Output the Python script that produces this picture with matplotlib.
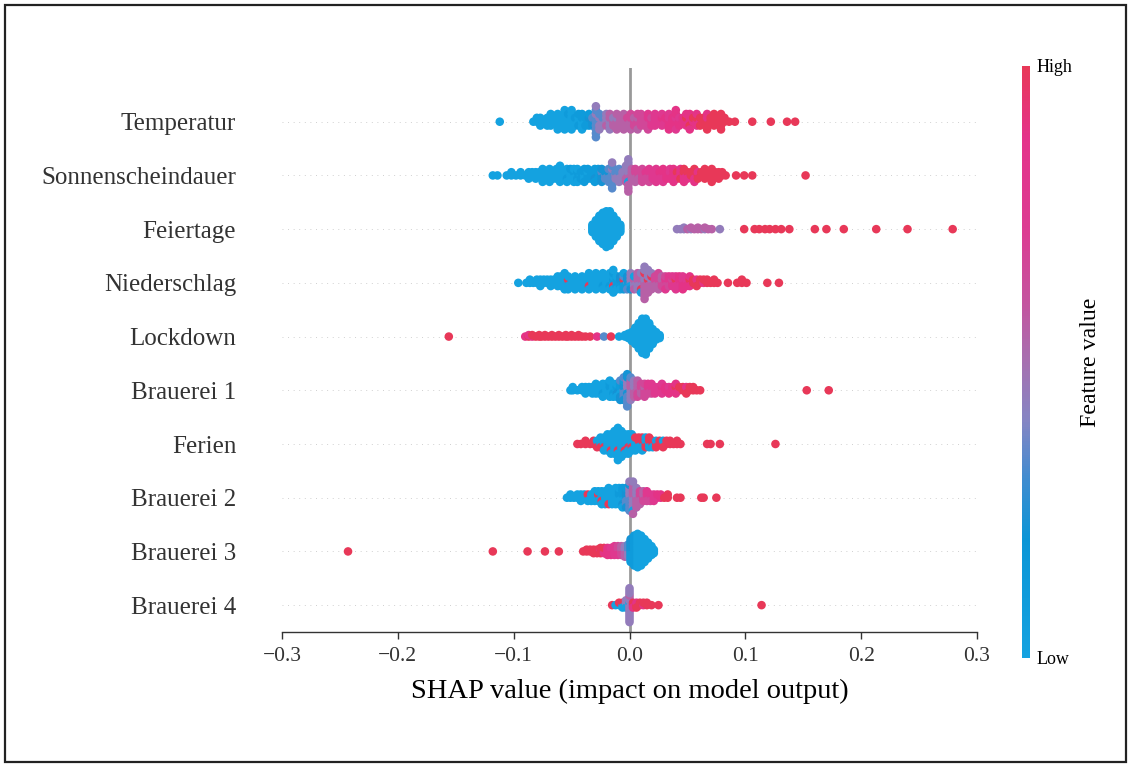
import numpy as np
import matplotlib
matplotlib.use("Agg")
import matplotlib.pyplot as plt
from matplotlib.colors import LinearSegmentedColormap
from matplotlib.cm import ScalarMappable
from matplotlib.patches import Rectangle

plt.rcParams['font.family'] = ['Liberation Serif', 'DejaVu Serif']

# feature names, top to bottom
features = ["Temperatur", "Sonnenscheindauer", "Feiertage", "Niederschlag", "Lockdown",
            "Brauerei 1", "Ferien", "Brauerei 2", "Brauerei 3", "Brauerei 4"]

# (SHAP value in 1/1000, feature value of each point there: 0 = low ... 9 = high)
temperatur = [
    (-112, "0"),
    (-83, "0"), (-80, "00"), (-77, "000"), (-74, "0"), (-71, "000"), (-68, "0000"), (-65, "00"),
    (-62, "00000"), (-59, "000"), (-56, "000000"), (-53, "0001"), (-50, "000000"), (-47, "010"),
    (-44, "0011"), (-41, "01010"), (-38, "011"), (-35, "1211"), (-32, "232"), (-29, "333433343"),
    (-26, "34434"), (-23, "434"), (-20, "4454"), (-17, "45454"), (-14, "545"), (-11, "54555"),
    (-8, "555"), (-5, "55555"), (-2, "565"), (1, "56565"), (4, "656"), (7, "65665"), (10, "6666"),
    (13, "666"), (16, "67676"), (19, "767"), (22, "7777"), (25, "77"), (28, "7877"), (31, "78"),
    (34, "87878"), (37, "88"), (40, "878878"), (43, "878"), (46, "88"), (49, "8988"), (52, "88988"),
    (55, "89"), (58, "8988"), (61, "899"), (64, "99"), (67, "98989"), (70, "99"), (73, "9999"),
    (76, "99"), (79, "99999"), (82, "99"), (86, "9"),
    (91, "9"), (106, "9"), (122, "9"), (136, "9"), (143, "9"),
]
sonnenscheindauer = [
    (-118, "0"), (-114, "0"), (-106, "0"), (-102, "00"), (-98, "0"), (-94, "00"), (-90, "0"),
    (-87, "000"), (-84, "00"), (-81, "000"), (-78, "00"), (-75, "00000"), (-72, "000"),
    (-69, "00000"), (-66, "000"), (-63, "0000"), (-60, "000000"), (-57, "000"), (-54, "00100"),
    (-51, "0001"), (-48, "01000"), (-45, "01100"), (-42, "011"), (-39, "01011"), (-36, "1011"),
    (-33, "111"), (-30, "11211"), (-27, "2111"), (-24, "23222"), (-21, "323"), (-18, "32333"),
    (-15, "333433343"), (-12, "434"), (-9, "43434"), (-6, "444"), (-3, "445454"),
    (-1, "54540454545"), (2, "5555"), (5, "56565"), (8, "665"), (11, "66666"), (14, "676"),
    (17, "67676"), (20, "777"), (23, "77777"), (26, "787"), (29, "78787"), (32, "888"),
    (35, "8787"), (38, "88888"), (41, "898"), (44, "8898"), (47, "89898"), (50, "898"), (53, "99"),
    (56, "99898"), (59, "989"), (62, "99"), (65, "9999"), (68, "99"), (71, "99999"), (74, "99"),
    (77, "999"), (80, "99"), (83, "9"),
    (92, "9"), (99, "9"), (106, "9"), (152, "9"),
]
feiertage = [
    (-32, "000000"), (-29, "000000000000"), (-26, "000000000000000000"),
    (-23, "0000000000000000000000"), (-20, "0000000000000000000000000"),
    (-17, "000000000000000000000000"), (-14, "000000000000000000"), (-11, "000000000000"),
    (-8, "000000"),
    (41, "4"), (44, "4"), (47, "44"), (50, "5"), (53, "45"), (56, "5"), (59, "55"), (62, "5"),
    (65, "45"), (68, "5"), (71, "5"), (78, "4"),
    (99, "9"), (108, "9"), (112, "9"), (117, "9"), (121, "9"), (126, "9"), (131, "9"), (138, "9"),
    (160, "9"), (170, "9"), (185, "9"), (213, "9"), (240, "9"), (279, "9"),
]
niederschlag = [
    (-96, "0"), (-89, "0"), (-86, "00"), (-83, "0"), (-80, "00"), (-77, "000"), (-74, "00"),
    (-71, "00"), (-68, "000"), (-65, "00"), (-62, "0000"), (-59, "0000"), (-56, "000000"),
    (-53, "09000"), (-50, "000"), (-47, "00000"), (-44, "000"), (-41, "00000"), (-38, "000"),
    (-35, "009000"), (-32, "0000"), (-29, "000000"), (-26, "0000"), (-23, "001000"), (-20, "0000"),
    (-17, "001000"), (-14, "01900100"), (-11, "01100"), (-8, "12120"), (-5, "291310"),
    (-2, "32123"), (1, "340424"), (4, "45405"), (7, "454545"), (10, "4545940"),
    (13, "54545954545"), (16, "59545454"), (19, "545954"), (22, "5656"), (25, "565656"),
    (28, "6565"), (31, "67667"), (34, "6767"), (37, "7677"), (40, "79777"), (43, "7878"),
    (46, "87878"), (49, "878"), (52, "8988"), (55, "99"), (58, "989"), (61, "99"), (64, "89"),
    (67, "99"), (70, "9"), (73, "99"), (76, "9"),
    (85, "9"), (93, "9"), (97, "99"), (101, "9"), (119, "9"), (129, "9"),
]
lockdown = [
    (-156, "9"),
    (-90, "8"), (-87, "98"), (-84, "89"), (-81, "9"), (-78, "99"), (-76, "9"), (-73, "99"),
    (-70, "9"), (-67, "99"), (-64, "9"), (-61, "99"), (-58, "9"), (-55, "99"), (-53, "9"),
    (-50, "99"), (-47, "9"), (-44, "99"), (-41, "9"), (-38, "9"), (-34, "9"), (-28, "8"),
    (-22, "3"), (-16, "9"), (-9, "0"),
    (-4, "00"), (-1, "0000"), (2, "0000000"), (5, "000000000000"), (8, "000000000000000000"),
    (11, "000000000000000000000000"), (14, "0000000000000000000000000"),
    (17, "000000000000000000"), (20, "00000000000"), (23, "000000"), (26, "000"),
]
brauerei_1 = [
    (-51, "0"), (-49, "00"), (-45, "0"), (-41, "00"), (-38, "000"), (-35, "00"), (-32, "000"),
    (-29, "0000"), (-26, "000"), (-23, "00100"), (-20, "0000"), (-17, "010100"), (-14, "00100"),
    (-11, "01200"), (-8, "2101232"), (-5, "32323123"), (-2, "34243432323"), (1, "45454543"),
    (4, "545454"), (7, "556565"), (10, "5656"), (13, "65666"), (16, "6767"), (19, "6767"),
    (22, "777"), (25, "77"), (28, "7877"), (31, "88"), (34, "878"), (37, "88"), (40, "8988"),
    (43, "89"), (46, "99"), (49, "989"), (52, "99"), (55, "99"), (58, "9"), (61, "9"),
    (153, "9"), (172, "9"),
]
ferien = [
    (-45, "9"), (-42, "9"), (-38, "99"), (-34, "9"), (-31, "99"), (-28, "909"), (-25, "0090"),
    (-22, "00900"), (-19, "000000"), (-16, "0000900"), (-13, "00000000"), (-10, "00009000000"),
    (-7, "000000000"), (-4, "0000900"), (-1, "0090000"), (2, "009000"), (5, "00090"),
    (8, "0909"), (11, "09090"), (14, "9090"), (17, "0909"), (20, "990"), (23, "909"), (26, "99"),
    (29, "909"), (32, "99"), (35, "99"), (38, "9"), (41, "99"), (44, "9"),
    (67, "9"), (70, "9"), (78, "9"), (126, "9"),
]
brauerei_2 = [
    (-54, "0"), (-51, "00"), (-48, "0"), (-45, "00"), (-42, "000"), (-39, "00"), (-36, "090"),
    (-33, "000"), (-30, "0000"), (-27, "0900"), (-24, "00900"), (-21, "00000"), (-18, "000090"),
    (-15, "00000"), (-12, "000000"), (-9, "010100"), (-6, "0101210"), (-3, "1232312"),
    (0, "3434343234"), (3, "45454545045"), (6, "5454545"), (9, "56565"), (12, "6565"),
    (15, "6767"), (18, "676"), (21, "777"), (24, "78"), (27, "88"), (30, "9"), (33, "99"),
    (41, "9"), (44, "9"), (62, "9"), (64, "9"), (75, "9"),
]
brauerei_3 = [
    (-243, "9"), (-118, "9"), (-88, "9"), (-73, "9"), (-61, "9"),
    (-40, "9"), (-37, "99"), (-34, "99"), (-31, "999"), (-28, "999"), (-25, "9899"),
    (-22, "8989"), (-19, "88888"), (-16, "87878"), (-13, "777777"), (-10, "767676"),
    (-7, "656565"), (-4, "5454545"), (-1, "43434343"),
    (1, "22121212121212"), (4, "111111111111111111"), (7, "00000000000000000000"),
    (10, "000000000000000000"), (13, "00000000000000"), (16, "0000000000"), (19, "000000"),
    (21, "000"),
]
brauerei_4 = [
    (-15, "9"), (-12, "0"), (-9, "09"), (-6, "090"), (-3, "0404"),
    (0, "404444454444444"), (3, "898"), (6, "989"), (9, "99"), (12, "89"), (15, "99"),
    (19, "9"), (25, "9"), (114, "9"),
]

all_bins = [temperatur, sonnenscheindauer, feiertage, niederschlag, lockdown,
            brauerei_1, ferien, brauerei_2, brauerei_3, brauerei_4]

x_ticks = [-0.3, -0.2, -0.1, 0.0, 0.1, 0.2, 0.3]

# colours
cmap = LinearSegmentedColormap.from_list("shap_like", [
    (0.00, "#14a2e0"), (0.20, "#0b95d6"), (0.30, "#3f8cd0"), (0.40, "#8585c4"),
    (0.50, "#a670b0"), (0.60, "#c4549f"), (0.72, "#dc3c92"), (0.88, "#e4328a"),
    (1.00, "#e83858"),
])


def expand(bins):
    xs, fv = [], []
    for v, codes in bins:
        for ch in codes:
            xs.append(v / 1000)
            fv.append(int(ch) / 9)
    return np.array(xs), np.array(fv)


def swarm(xs, row_height=0.4):
    # same stacking rule as shap's beeswarm
    ys = np.zeros(len(xs))
    layer, last = 0, None
    for i, x in enumerate(xs):
        if x != last:
            layer = 0
        ys[i] = np.ceil(layer / 2) * ((layer % 2) * 2 - 1)
        layer += 1
        last = x
    ys *= 0.9 * (row_height / np.max(ys + 1))
    return ys


W, H = 1131, 767
fig = plt.figure(figsize=(W / 100, H / 100), dpi=100)
ax = fig.add_axes([282 / W, 1 - 632 / H, 695 / W, 564 / H])

n = len(features)
ax.axvline(0, color="#999999", lw=2.0, zorder=-1)
for i, bins in enumerate(all_bins):
    pos = n - 1 - i
    ax.axhline(pos, color="#cccccc", lw=0.67, dashes=(1, 5), zorder=-1)
    xs, fv = expand(bins)
    ys = swarm(xs)
    ax.scatter(xs, pos + ys, c=fv, cmap=cmap, vmin=0, vmax=1, s=38,
               linewidth=0, alpha=1, zorder=3)

ax.set_xlim(-0.3, 0.3)
ax.set_ylim(-0.5, n)
ax.set_xticks(x_ticks)
ax.set_yticks(range(n))
ax.set_yticklabels(features[::-1], fontsize=18)
ax.tick_params('x', labelsize=15.5, length=4.7, width=1.0, color="#333333",
               labelcolor="#333333", pad=6)
ax.tick_params('y', length=0, left=False, labelcolor="#333333", pad=33)
for side in ["right", "top", "left"]:
    ax.spines[side].set_visible(False)
ax.spines["bottom"].set_linewidth(1.0)
ax.spines["bottom"].set_color("#333333")
ax.set_xlabel("SHAP value (impact on model output)", fontsize=20.5, labelpad=9)

cax = fig.add_axes([1022 / W, 1 - 658 / H, 7.5 / W, 592 / H])
cb = fig.colorbar(ScalarMappable(cmap=cmap, norm=plt.Normalize(0, 1)), cax=cax, ticks=[0, 1])
cb.set_ticklabels(["Low", "High"])
cb.ax.tick_params(labelsize=13, length=0, pad=5)
cb.outline.set_visible(False)
fig.text(1090 / W, 1 - 362 / H, "Feature value", rotation=90, ha="center", va="center",
         fontsize=17.2)

fig.patches.append(Rectangle((5 / W, 5 / H), 1 - 10 / W, 1 - 10 / H,
                             transform=fig.transFigure, fill=False, edgecolor="#222222",
                             linewidth=1.6))

fig.savefig("out.png", dpi=100)
